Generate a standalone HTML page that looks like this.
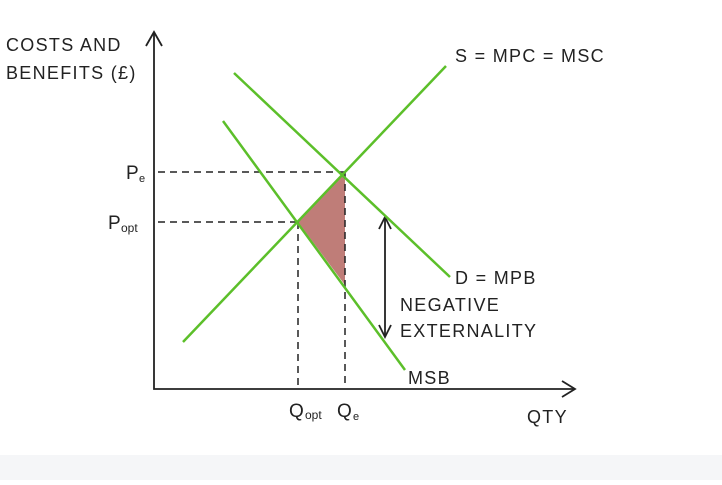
<!DOCTYPE html>
<html><head><style>body{margin:0;width:722px;height:480px;background:#fff;overflow:hidden}</style></head><body>
<svg width="722" height="480" xmlns="http://www.w3.org/2000/svg" font-family="Liberation Sans, sans-serif" fill="#222">
<rect x="0" y="455" width="722" height="25" fill="#f5f6f8"/>
<polygon points="298,222 345,172 345,285" fill="#b86f69" opacity="0.9"/>
<g stroke="#222" stroke-width="1.5" stroke-dasharray="7,5" fill="none">
<line x1="158" y1="172" x2="345" y2="172"/><line x1="158" y1="222" x2="298" y2="222"/>
<line x1="298" y1="222" x2="298" y2="388"/><line x1="345" y1="172" x2="345" y2="388"/>
</g>
<g stroke="#222" stroke-width="1.8" fill="none">
<polyline points="154,32 154,389 575,389"/>
<polyline points="146,46 154,32 162,46"/>
<polyline points="562,381 575,389 562,397"/>
<line x1="385" y1="217" x2="385" y2="337"/>
<polyline points="379,229 385,217 391,229"/><polyline points="379,325 385,337 391,325"/>
</g>
<g stroke="#5cbf2a" stroke-width="2.5">
<line x1="183" y1="342" x2="446" y2="66"/>
<line x1="234" y1="73" x2="450" y2="277"/>
<line x1="223" y1="121" x2="405" y2="370"/>
</g>
<g font-size="18" letter-spacing="1.3">
<text x="6" y="51">COSTS AND</text><text x="6" y="79">BENEFITS (£)</text>
<text x="455" y="62">S = MPC = MSC</text>
<text x="455" y="284">D = MPB</text>
<text x="400" y="311">NEGATIVE</text><text x="400" y="337">EXTERNALITY</text>
<text x="408" y="384">MSB</text>
<text x="527" y="423">QTY</text>
</g>
<g font-size="19">
<text x="126" y="179">P</text><text x="139" y="182" font-size="11">e</text>
<text x="108" y="229">P</text><text x="121" y="232" font-size="12">opt</text>
<text x="289" y="417">Q</text><text x="305" y="419" font-size="12">opt</text>
<text x="337" y="417">Q</text><text x="353" y="420" font-size="11">e</text>
</g>
</svg>
</body></html>
